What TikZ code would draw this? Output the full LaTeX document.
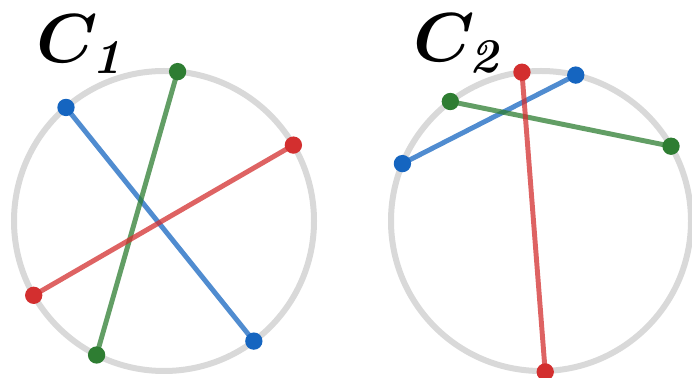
\documentclass[tikz,border=0pt]{standalone}
\usepackage{fix-cm}
\usepackage{amsmath,bm}
\usepackage{tikz}
\usetikzlibrary{calc}
\definecolor{ringgray}{HTML}{D9D9D9}
\definecolor{cblue}{HTML}{1565C0}
\definecolor{cred}{HTML}{D32F2F}
\definecolor{cgreen}{HTML}{2E7D32}
\newcommand{\clabel}[1]{{\fontsize{52}{60}\selectfont$\bm{C}_{\textbf{\textit{#1}}}$}}

\begin{document}
\begin{tikzpicture}[x=0.75pt, y=0.75pt,
  ring/.style={draw=ringgray, line width=4.5pt},
  chord/.style={line width=3.7pt, draw opacity=0.75},
  pt/.style={circle, fill=#1, inner sep=0pt, minimum size=13pt},
  lbl/.style={inner sep=0pt, anchor=base west}]
\useasboundingbox (0,0) rectangle (692,378);
% circles
\coordinate (c1) at (164,157);
\coordinate (c2) at (541,157);
\draw[ring] (c1) circle (150);
\draw[ring] (c2) circle (150);
% endpoints on the first circle
\coordinate (g1a) at ($(c1)+(84.8:150)$);
\coordinate (g1b) at ($(c1)+(243.3:150)$);
\coordinate (b1a) at ($(c1)+(130.8:150)$);
\coordinate (b1b) at ($(c1)+(306.8:150)$);
\coordinate (r1a) at ($(c1)+(30.4:150)$);
\coordinate (r1b) at ($(c1)+(209.7:150)$);
% endpoints on the second circle
\coordinate (r2a) at ($(c2)+(97.3:150)$);
\coordinate (r2b) at ($(c2)+(271.6:151)$);
\coordinate (b2a) at ($(c2)+(76.6:150)$);
\coordinate (b2b) at ($(c2)+(157.5:150)$);
\coordinate (g2a) at ($(c2)+(127.2:150)$);
\coordinate (g2b) at ($(c2)+(29.9:150)$);
% chords
\draw[chord, cblue] (b1a) -- (b1b);
\draw[chord, cgreen] (g1a) -- (g1b);
\draw[chord, cred] (r1a) -- (r1b);
\draw[chord, cblue] (b2a) -- (b2b);
\draw[chord, cgreen] (g2a) -- (g2b);
\draw[chord, cred] (r2a) -- (r2b);
% end dots
\foreach \p/\c in {g1a/cgreen, g1b/cgreen, b1a/cblue, b1b/cblue, r1a/cred, r1b/cred,
                   r2a/cred, r2b/cred, b2a/cblue, b2b/cblue, g2a/cgreen, g2b/cgreen}
  \node[pt=\c] (d\p) at (\p) {};
% labels
\node[lbl] (lab1) at (36,315) {\clabel{1}};
\node[lbl] (lab2) at (413,316) {\clabel{2}};
\end{tikzpicture}
\end{document}
